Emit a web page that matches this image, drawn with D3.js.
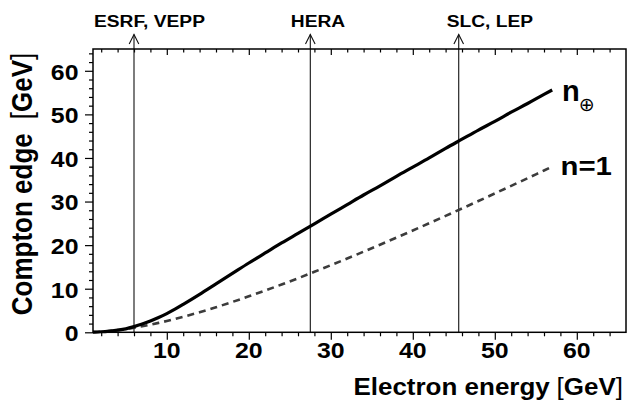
<!DOCTYPE html>
<html><head><meta charset="utf-8">
<script src="https://cdn.jsdelivr.net/npm/d3@7"></script>
<style>body{margin:0;background:#fff}</style>
</head><body><svg id="c" width="627" height="400"></svg>
<script>
// ---- data ----
const energy       = [1,2,3,4,5,6,7,8,9,10,11,12,14,16,18,20,22,24,26,28,30,32,34,36,38,40,42,44,46,48,50,52,54,56,57];
const edgeOplus    = [0.03,0.13,0.29,0.5,0.8,1.3,1.9,2.6,3.4,4.3,5.3,6.4,8.7,11.1,13.5,15.9,18.2,20.5,22.7,24.9,27.1,29.3,31.5,33.6,35.8,37.9,40.0,42.2,44.3,46.4,48.4,50.5,52.5,54.6,55.6];
const edgeN1       = [0.03,0.13,0.29,0.49,0.75,1.04,1.38,1.75,2.16,2.6,3.07,3.56,4.61,5.75,6.97,8.25,9.59,10.97,12.4,13.88,15.39,16.93,18.5,20.1,21.72,23.36,25.02,26.7,28.41,30.12,31.85,33.6,35.35,37.12,38.0];
const accelerators = ["ESRF, VEPP","HERA","SLC, LEP"];
const accelEnergy  = [6, 27.5, 45.6];
const xTicks = [10,20,30,40,50,60];
const yTicks = [0,10,20,30,40,50,60];
const xMinorTicks = [2,4,6,8,12,14,16,18,22,24,26,28,32,34,36,38,42,44,46,48,52,54,56,58,62,64];
const yMinorTicks = [2,4,6,8,12,14,16,18,22,24,26,28,32,34,36,38,42,44,46,48,52,54,56,58,62,64];

// ---- layout ----
const SX = 1.13; // horizontal glyph stretch of the original
const L = 93, R = 626, T = 49, B = 332.3;
const FONT = "'Liberation Sans', Arial, Helvetica, sans-serif";
const svg = d3.select("#c").style("font-family", FONT);

const x = d3.scaleLinear().domain([1, 66]).range([L, R]);
const y = d3.scaleLinear().domain([0, 65]).range([B, T]);

function styleAxis(g){ g.select(".domain").remove(); g.selectAll("line").attr("stroke","#000").attr("stroke-width",1.2); }

// minor ticks
svg.append("g").attr("transform",`translate(0,${B})`)
  .call(d3.axisBottom(x).tickValues(xMinorTicks).tickSize(4).tickFormat("")).call(styleAxis);
svg.append("g").attr("transform",`translate(0,${T})`)
  .call(d3.axisTop(x).tickValues(xMinorTicks).tickSize(-3.5).tickFormat("")).call(styleAxis);
svg.append("g").attr("transform",`translate(${L},0)`)
  .call(d3.axisLeft(y).tickValues(yMinorTicks).tickSize(4).tickFormat("")).call(styleAxis);
// major ticks
svg.append("g").attr("transform",`translate(0,${B})`)
  .call(d3.axisBottom(x).tickValues(xTicks).tickSize(7.5).tickFormat("")).call(styleAxis);
svg.append("g").attr("transform",`translate(0,${T})`)
  .call(d3.axisTop(x).tickValues(xTicks).tickSize(-6).tickFormat("")).call(styleAxis);
svg.append("g").attr("transform",`translate(${L},0)`)
  .call(d3.axisLeft(y).tickValues(yTicks).tickSize(8).tickFormat("")).call(styleAxis);

// tick labels
svg.append("g").selectAll("g").data(xTicks).join("g")
  .attr("transform", d => `translate(${x(d)},358) scale(${SX},1)`)
  .append("text").attr("text-anchor","middle").attr("font-weight","bold").attr("font-size",22).text(d => d);
svg.append("g").selectAll("g").data(yTicks).join("g")
  .attr("transform", d => `translate(78.5,${y(d)+8.8}) scale(${SX},1)`)
  .append("text").attr("text-anchor","end").attr("font-weight","bold").attr("font-size",22).text(d => d);

// accelerator lines
const labelShift = [-40, -19.5, -12];
const acc = svg.append("g");
accelEnergy.forEach((e,i) => {
  const xe = x(e);
  acc.append("line").attr("x1",xe).attr("x2",xe).attr("y1",B).attr("y2",34.5)
    .attr("stroke","#111").attr("stroke-width",1.1);
  acc.append("path").attr("d",`M${xe-4.8},44 L${xe},34.5 L${xe+4.8},44`)
    .attr("fill","none").attr("stroke","#111").attr("stroke-width",1.1);
  acc.append("g").attr("transform",`translate(${xe+labelShift[i]},26.5) scale(${SX},1)`)
    .append("text").attr("font-weight","bold").attr("font-size",17).text(accelerators[i]);
});

// curves
const line = d3.line().x((d,i) => x(energy[i])).y(d => y(d)).curve(d3.curveMonotoneX);
svg.append("path").datum(edgeN1).attr("d", line).attr("fill","none")
  .attr("stroke","#3c3c3c").attr("stroke-width",2.6).attr("stroke-dasharray","7,5");
svg.append("path").datum(edgeOplus).attr("d", line).attr("fill","none")
  .attr("stroke","#000").attr("stroke-width",3.2);

// frame
svg.append("rect").attr("x",L).attr("y",T).attr("width",R-L).attr("height",B-T)
  .attr("fill","none").attr("stroke","#000").attr("stroke-width",1.5);

// curve labels
svg.append("text").attr("x",562).attr("y",101).attr("font-weight","bold").attr("font-size",29).text("n");
svg.append("text").attr("x",586.7).attr("y",111).attr("text-anchor","middle")
  .attr("font-family","'DejaVu Sans', sans-serif").attr("font-size",19).text("⊕");
svg.append("g").attr("transform",`translate(560.5,175) scale(${SX},1)`)
  .append("text").attr("font-weight","bold").attr("font-size",26).text("n=1");

// axis titles
const xt = svg.append("g").attr("transform",`translate(623,395) scale(${SX},1)`)
  .append("text").attr("text-anchor","end").attr("font-size",23);
xt.append("tspan").attr("font-weight","bold").text("Electron energy");
xt.append("tspan").attr("dx",6).text("[");
xt.append("tspan").attr("font-weight","bold").text("GeV");
xt.append("tspan").text("]");

const yt = svg.append("g").attr("transform",`translate(32,184) scale(${SX},1) rotate(-90)`)
  .append("text").attr("text-anchor","middle").attr("font-size",26);
yt.append("tspan").attr("font-weight","bold").text("Compton edge");
yt.append("tspan").attr("dx",14).text("[");
yt.append("tspan").attr("font-weight","bold").text("GeV");
yt.append("tspan").text("]");
</script></body></html>
